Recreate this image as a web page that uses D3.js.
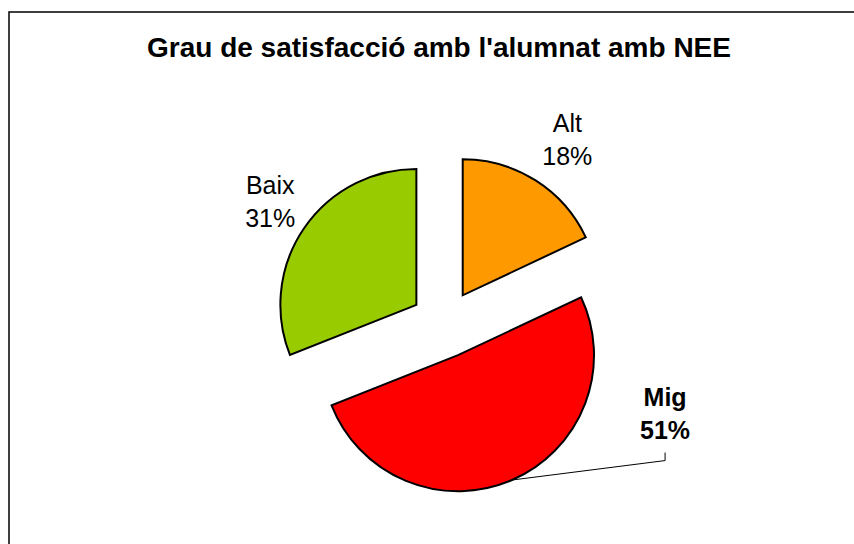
<!DOCTYPE html>
<html>
<head>
<meta charset="utf-8">
<script src="https://cdn.jsdelivr.net/npm/d3@7"></script>
<style>
    body { margin: 0; background: #fff; }
    svg { display: block; }
</style>
</head>
<body>
<svg id="satisfaccio-pie"></svg>
<script>
// Chart data
const categories = ["Alt", "Mig", "Baix"];
const values = [18, 51, 31];
const colors = ["#ff9900", "#ff0000", "#99cc00"];
const boldLabels = ["Mig"];
const chartTitle = "Grau de satisfacció amb l'alumnat amb NEE";

function createSatisfactionChart() {
    const width = 854;
    const height = 544;
    const radius = 136;
    const explode = 34;
    const cx = 444.5;
    const cy = 324;

    const svg = d3.select("#satisfaccio-pie")
        .attr("width", width)
        .attr("height", height);

    // Chart area border (runs past the right and bottom edge)
    svg.append("rect")
        .attr("x", 9)
        .attr("y", 12)
        .attr("width", 900)
        .attr("height", 600)
        .attr("fill", "none")
        .attr("stroke", "#000")
        .attr("stroke-width", 1.5);

    svg.append("text")
        .attr("x", 439)
        .attr("y", 57)
        .attr("text-anchor", "middle")
        .style("font-family", "'Liberation Sans', Arial, sans-serif")
        .style("font-size", "28px")
        .style("font-weight", "bold")
        .text(chartTitle);

    const data = categories.map((c, i) => ({ name: c, value: values[i], color: colors[i] }));

    const pie = d3.pie()
        .value(d => d.value)
        .sort(null);

    const arc = d3.arc()
        .innerRadius(0)
        .outerRadius(radius);

    const total = d3.sum(values);
    const midAngle = d => (d.startAngle + d.endAngle) / 2;

    const g = svg.append("g")
        .attr("transform", `translate(${cx}, ${cy})`);

    const slices = g.selectAll(".slice")
        .data(pie(data))
        .enter()
        .append("g")
        .attr("class", "slice")
        .attr("transform", d => {
            const a = midAngle(d);
            return `translate(${Math.sin(a) * explode}, ${-Math.cos(a) * explode})`;
        });

    slices.append("path")
        .attr("d", arc)
        .attr("fill", d => d.data.color)
        .attr("stroke", "#000")
        .attr("stroke-width", 2)
        .attr("stroke-linejoin", "miter");

    // Labels: outside end, Mig was dragged away so it gets a leader line
    const labelRadius = 218;
    const movedLabels = { Mig: [128, -111] };
    const lineGap = 33;

    const labelPos = d => {
        const a = midAngle(d);
        let x = Math.sin(a) * labelRadius + 6;
        let y = -Math.cos(a) * labelRadius;
        const moved = movedLabels[d.data.name];
        if (moved) {
            x += moved[0];
            y += moved[1];
        }
        return [x, y];
    };

    const labels = g.selectAll(".label")
        .data(pie(data))
        .enter()
        .append("text")
        .attr("class", "label")
        .attr("text-anchor", "middle")
        .style("font-family", "'Liberation Sans', Arial, sans-serif")
        .style("font-size", "25px")
        .style("font-weight", d => boldLabels.includes(d.data.name) ? "bold" : "normal")
        .attr("transform", d => {
            const p = labelPos(d);
            // first baseline sits so the two-line block is centred on p
            return `translate(${p[0]}, ${p[1] - lineGap / 2 + 9})`;
        });

    labels.append("tspan")
        .attr("x", 0)
        .attr("y", 0)
        .text(d => d.data.name);

    labels.append("tspan")
        .attr("x", 0)
        .attr("y", lineGap)
        .text(d => `${Math.round(d.data.value / total * 100)}%`);

    // Leader line for moved labels
    g.selectAll(".leader")
        .data(pie(data).filter(d => movedLabels[d.data.name]))
        .enter()
        .append("polyline")
        .attr("class", "leader")
        .attr("fill", "none")
        .attr("stroke", "#000")
        .attr("stroke-width", 1)
        .attr("points", d => {
            const p = labelPos(d);
            const a = midAngle(d);
            const top = p[1] - lineGap / 2 + 9 + lineGap + 14;
            const edge = [
                Math.sin(a) * (radius + explode),
                -Math.cos(a) * (radius + explode)
            ];
            return [[p[0], top], [p[0], top + 8], edge];
        });

    return svg;
}

createSatisfactionChart();
</script>
</body>
</html>
